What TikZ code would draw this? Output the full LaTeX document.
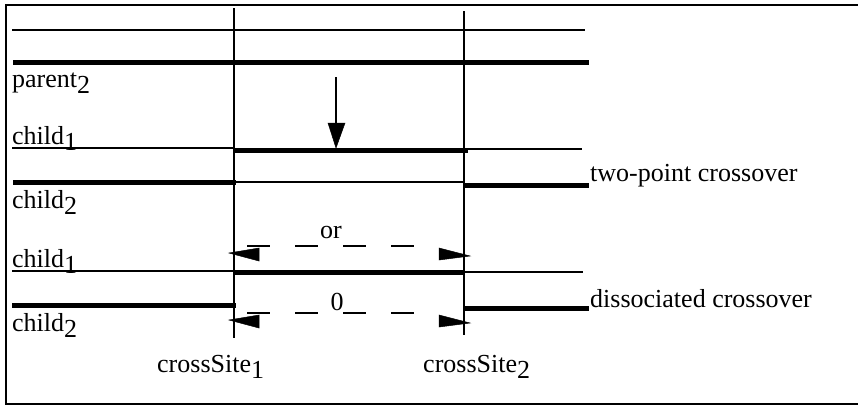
\documentclass[tikz,border=0pt]{standalone}
\usepackage{fontspec}
\setmainfont{Liberation Serif}
\newcommand\lowsub[1]{\raisebox{-6pt}{#1}}
\tikzset{
  thinline/.style={line width=2.2pt},
  thickline/.style={line width=5pt},
  siteline/.style={line width=2.5pt},
  dashline/.style={line width=2.6pt, dash pattern=on 23pt off 25pt},
  head/.style={fill=black, draw=black, line width=0.5pt},
  lbl/.style={anchor=base west, inner sep=0pt, font=\fontsize{26}{30}\selectfont},
  clbl/.style={anchor=base, inner sep=0pt, font=\fontsize{26}{30}\selectfont}
}
\begin{document}
\begin{tikzpicture}[x=1pt,y=-1pt]
\useasboundingbox (0,0) rectangle (858,405);
\begin{scope}
\clip (0,0) rectangle (858,405);
% frame (right side lies outside the picture)
\draw[line width=2.6pt] (950,5) -- (6,5) -- (6,404) -- (950,404);
\end{scope}
% cross sites
\coordinate (s1t) at (234,8);  \coordinate (s1b) at (234,338);
\coordinate (s2t) at (464,11); \coordinate (s2b) at (464,335);
\draw[siteline] (s1t) -- (s1b);
\draw[siteline] (s2t) -- (s2b);
% parents
\coordinate (p1a) at (12,30);  \coordinate (p1b) at (585,30);
\coordinate (p2a) at (13,62);  \coordinate (p2b) at (589,62);
\draw[thinline] (p1a) -- (p1b);
\draw[thickline] (p2a) -- (p2b);
% two-point crossover children
\coordinate (c1a) at (12,148); \coordinate (c1b) at (234,148);
\coordinate (c1c) at (468,149); \coordinate (c1d) at (582,149);
\draw[thinline] (c1a) -- (c1b);
\draw[thickline] (c1b |- 0,150) -- (c1c |- 0,150);
\draw[thinline] (c1c) -- (c1d);
\coordinate (c2a) at (13,182); \coordinate (c2b) at (236,182);
\coordinate (c2c) at (464,182); \coordinate (c2d) at (589,185);
\draw[thickline] (c2a) -- (c2b);
\draw[thinline] (c2b) -- (c2c);
\draw[thickline] (c2c |- c2d) -- (c2d);
% dissociated crossover children
\coordinate (d1a) at (12,271); \coordinate (d1b) at (234,271);
\coordinate (d1c) at (465,271); \coordinate (d1d) at (583,272);
\draw[thinline] (d1a) -- (d1b);
\draw[thickline] (d1b |- 0,272) -- (d1c |- 0,272);
\draw[thinline] (d1c |- d1d) -- (d1d);
\coordinate (d2a) at (12,305); \coordinate (d2b) at (236,305);
\coordinate (d2c) at (464,308); \coordinate (d2d) at (589,308);
\draw[thickline] (d2a) -- (d2b);
\draw[thickline] (d2c) -- (d2d);
% down arrow
\coordinate (da) at (336,77); \coordinate (db) at (336,148);
\draw[line width=2.4pt] (da) -- (336,128);
\fill[head] (328,123) -- (345,123) -- (db) -- cycle;
% dashed arrows
\coordinate (o1) at (247,246); \coordinate (o2) at (414,246);
\draw[dashline] (o1) -- (o2);
\fill[head] (229,253) -- (259,248) -- (259,261) -- cycle;
\fill[head] (470,256) -- (439,248) -- (439,260) -- cycle;
\coordinate (z1) at (247,313); \coordinate (z2) at (414,313);
\draw[dashline] (z1) -- (z2);
\fill[head] (229,320) -- (259,315) -- (259,328) -- cycle;
\fill[head] (470,323) -- (439,315) -- (439,327) -- cycle;
% labels
\node[lbl] (lp2) at (12,87) {parent\lowsub{2}};
\node[lbl] (lc1) at (12,144) {child\lowsub{1}};
\node[lbl] (lc2) at (12,208) {child\lowsub{2}};
\node[lbl] (ld1) at (12,267) {child\lowsub{1}};
\node[lbl] (ld2) at (12,331) {child\lowsub{2}};
\node[lbl] (ltp) at (590,181) {two-point crossover};
\node[lbl] (ldc) at (590,307) {dissociated crossover};
\node[clbl] (lor) at (331,238) {or};
\node[clbl] (lzero) at (337,310) {0};
\node[lbl] (lcs1) at (157,372) {crossSite\lowsub{1}};
\node[lbl] (lcs2) at (423,372) {crossSite\lowsub{2}};
\end{tikzpicture}
\end{document}
